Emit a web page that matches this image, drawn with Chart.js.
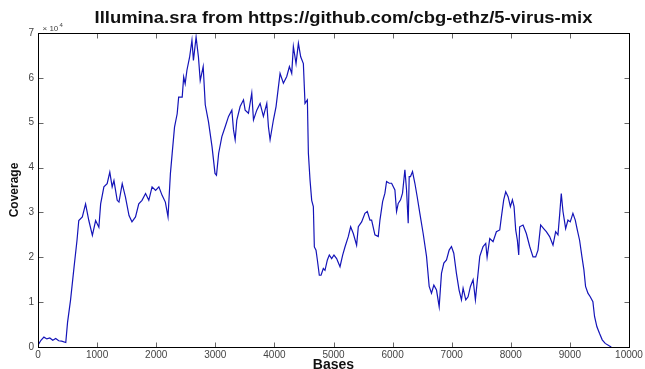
<!DOCTYPE html>
<html>
<head>
<meta charset="utf-8">
<script src="https://cdn.jsdelivr.net/npm/chart.js@4/dist/chart.umd.min.js"></script>
<style>
  html, body { margin: 0; padding: 0; background: #fff; }
  #wrap { width: 645px; height: 369px; }
</style>
</head>
<body>
<div id="wrap"><canvas id="cov"></canvas></div>
<script>
// Read depth along the genome (position in bases, coverage in reads)
const bases = [
  0, 50, 100, 150, 200, 250, 300, 350, 400, 470,
  500, 550, 610, 660, 690, 750, 805, 860, 920, 975,
  1030, 1060, 1115, 1170, 1215, 1255, 1285, 1340, 1370, 1425,
  1480, 1540, 1590, 1650, 1705, 1760, 1820, 1875, 1930, 1990,
  2045, 2100, 2155, 2200, 2240, 2270, 2310, 2355, 2380, 2440,
  2465, 2490, 2520, 2565, 2605, 2630, 2675, 2715, 2745, 2795,
  2830, 2885, 2945, 2995, 3020, 3057, 3111, 3167, 3224, 3280,
  3308, 3336, 3364, 3420, 3477, 3505, 3561, 3617, 3646, 3702,
  3758, 3814, 3871, 3899, 3927, 3983, 4028, 4068, 4096, 4152,
  4209, 4254, 4293, 4321, 4366, 4406, 4445, 4490, 4518, 4558,
  4575, 4603, 4631, 4659, 4676, 4704, 4727, 4760, 4789, 4828,
  4856, 4896, 4929, 4969, 5008, 5053, 5110, 5155, 5194, 5250,
  5290, 5335, 5391, 5420, 5476, 5532, 5572, 5617, 5645, 5701,
  5757, 5786, 5831, 5870, 5898, 5943, 5983, 6039, 6067, 6095,
  6135, 6168, 6208, 6236, 6264, 6281, 6303, 6337, 6377, 6416,
  6461, 6517, 6574, 6619, 6658, 6698, 6743, 6788, 6827, 6867,
  6912, 6957, 6996, 7035, 7080, 7125, 7165, 7193, 7238, 7277,
  7317, 7362, 7401, 7429, 7475, 7531, 7576, 7599, 7644, 7700,
  7756, 7813, 7841, 7880, 7914, 7954, 7993, 8027, 8055, 8083,
  8111, 8134, 8150, 8207, 8263, 8320, 8376, 8421, 8460, 8505,
  8556, 8601, 8657, 8714, 8759, 8798, 8826, 8854, 8883, 8928,
  8967, 9006, 9051, 9091, 9125, 9164, 9204, 9237, 9265, 9305,
  9344, 9389, 9417, 9457, 9502, 9547, 9597, 9671, 9700
];
const coverage = [
  400, 1500, 2200, 1800, 2000, 1500, 1900, 1400, 1300, 1000,
  5500, 10400, 17800, 23800, 28200, 29000, 31900, 28200, 24900, 28200,
  26700, 31900, 35700, 36400, 39000, 35700, 37100, 32700, 32300, 36400,
  33400, 29300, 27900, 29000, 31900, 32700, 34200, 32700, 35700, 34900,
  35700, 33800, 32300, 29000, 38600, 43100, 49000, 52000, 55700, 55700,
  60200, 58700, 61700, 64600, 68400, 63900, 69100, 64600, 59400, 62500,
  54000, 50200, 44600, 38700, 38300, 43200, 46900, 49100, 51400, 52800,
  48400, 46200, 50600, 53600, 55100, 52800, 52100, 56600, 50600, 52800,
  54300, 51400, 54300, 49100, 46200, 50600, 53600, 58000, 61000, 58800,
  60300, 62500, 61000, 67000, 63200, 67700, 64700, 63200, 54300, 55100,
  43200, 37200, 32700, 31300, 22300, 21600, 19400, 16000, 16000, 17500,
  17100, 19400, 20500, 19700, 20500, 19700, 17900, 20500, 22300, 24600,
  26800, 25300, 22700, 26800, 27900, 29800, 30200, 28300, 28300, 25000,
  24600, 28300, 32400, 34300, 36900, 36500, 36500, 35000, 30200, 32000,
  32800, 34300, 39500, 35000, 27600, 38000, 38000, 39100, 36500, 33500,
  29800, 25300, 20200, 13500, 12000, 13800, 12700, 9000, 16400, 18700,
  19400, 21600, 22400, 20900, 16400, 12700, 10500, 13100, 10500, 11200,
  13500, 15000, 10500, 14200, 20200, 22400, 23100, 20000, 24200, 23500,
  25700, 26100, 29000, 32800, 34600, 33500, 31300, 32800, 31300, 26100,
  23800, 20500, 26800, 27200, 25300, 22400, 20100, 20100, 21600, 27200,
  26400, 25700, 24600, 22700, 25700, 25000, 29400, 34200, 30200, 26400,
  28300, 27900, 29800, 28300, 26100, 23800, 20100, 17200, 13500, 12000,
  11200, 10100, 6800, 4500, 3000, 1600, 800, 200, 0
];
// Axis ticks
const xTicks = [0, 1000, 2000, 3000, 4000, 5000, 6000, 7000, 8000, 9000, 10000];
const yTicks = [0, 10000, 20000, 30000, 40000, 50000, 60000, 70000];
const chartTitle = 'Illumina.sra from https://github.com/cbg-ethz/5-virus-mix';

const points = bases.map((b, i) => ({ x: b, y: coverage[i] }));
const FONT = '"Liberation Sans", Arial, sans-serif';

// Box frame, inward tick marks on all four sides, the x10^4 exponent and the title
const framePlugin = {
  id: 'frame',
  afterDraw(chart) {
    const { ctx, chartArea: a, scales } = chart;
    const L = Math.round(a.left) + 0.5, R = Math.round(a.right) + 0.5;
    const T = Math.round(a.top) + 0.5, B = Math.round(a.bottom) + 0.5;
    ctx.save();
    ctx.strokeStyle = '#666';
    ctx.lineWidth = 1;
    ctx.beginPath();
    xTicks.forEach(v => {
      const px = Math.round(scales.x.getPixelForValue(v)) + 0.5;
      ctx.moveTo(px, B); ctx.lineTo(px, B - 5);
      ctx.moveTo(px, T); ctx.lineTo(px, T + 5);
    });
    yTicks.forEach(v => {
      const py = Math.round(scales.y.getPixelForValue(v)) + 0.5;
      ctx.moveTo(L, py); ctx.lineTo(L + 5, py);
      ctx.moveTo(R, py); ctx.lineTo(R - 5, py);
    });
    ctx.stroke();
    ctx.strokeStyle = '#000';
    ctx.strokeRect(L, T, R - L, B - T);

    ctx.fillStyle = '#444';
    ctx.textBaseline = 'alphabetic';
    ctx.textAlign = 'left';
    ctx.font = '8px ' + FONT;
    ctx.fillText('\u00d7 10', L + 4, T - 3);
    ctx.font = '6px ' + FONT;
    ctx.fillText('4', L + 21, T - 7);

    // Title: bold, slightly wide letterforms, centred a little right of the axes
    ctx.fillStyle = '#111';
    ctx.font = 'bold 16px ' + FONT;
    ctx.textAlign = 'center';
    const cx = (a.left + a.right) / 2 + 10;
    ctx.translate(cx, 23);
    ctx.scale(1.15, 1);
    ctx.fillText(chartTitle, 0, 0);
    ctx.restore();
  }
};

new Chart(document.getElementById('cov'), {
  type: 'line',
  data: {
    datasets: [{
      data: points,
      borderColor: '#1414b8',
      borderWidth: 1.2,
      pointRadius: 0,
      tension: 0,
      fill: false
    }]
  },
  options: {
    responsive: true,
    maintainAspectRatio: false,
    animation: false,
    layout: { padding: { left: 0, right: 16, top: 33, bottom: 0 } },
    plugins: {
      legend: { display: false },
      tooltip: { enabled: false },
      title: { display: false }
    },
    scales: {
      x: {
        type: 'linear',
        min: 0, max: 10000,
        afterBuildTicks(scale) { scale.ticks = xTicks.map(v => ({ value: v })); },
        afterFit(scale) { scale.height = 22; },
        grid: { display: false, drawTicks: false },
        border: { display: false },
        ticks: {
          padding: 2,
          maxRotation: 0,
          autoSkip: false,
          color: '#444',
          font: { family: FONT, size: 10 },
          callback: v => String(v)
        },
        title: {
          display: true,
          text: 'Bases',
          color: '#111',
          font: { family: FONT, size: 14, weight: 'bold', lineHeight: 1 },
          padding: { top: 0, bottom: -3 }
        }
      },
      y: {
        min: 0, max: 70000,
        afterBuildTicks(scale) { scale.ticks = yTicks.map(v => ({ value: v })); },
        afterFit(scale) { scale.width = 38; },
        grid: { display: false, drawTicks: false },
        border: { display: false },
        ticks: {
          padding: 4,
          autoSkip: false,
          color: '#444',
          font: { family: FONT, size: 10 },
          callback: v => String(v / 10000)
        },
        title: {
          display: true,
          text: 'Coverage',
          color: '#111',
          font: { family: FONT, size: 12, weight: 'bold', lineHeight: 1 },
          padding: { top: 9, bottom: 0 }
        }
      }
    }
  },
  plugins: [framePlugin]
});
</script>
</body>
</html>
